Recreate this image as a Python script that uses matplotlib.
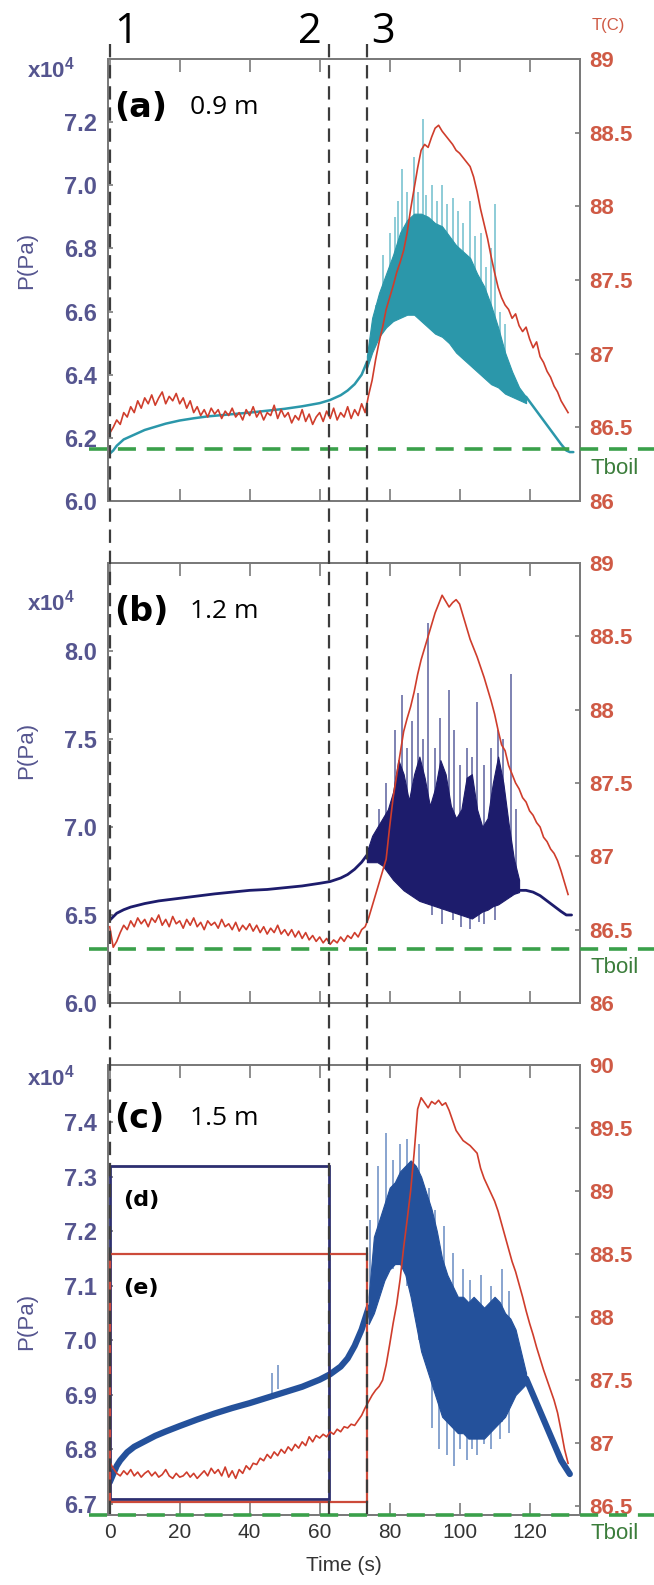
import matplotlib.pyplot as plt
from matplotlib.lines import Line2D
from matplotlib.patches import Rectangle
from matplotlib.transforms import blended_transform_factory as blend

plt.rcParams['font.family'] = ['Liberation Sans', 'DejaVu Sans']
plt.rcParams['mathtext.default'] = 'regular'

# event times (s) marked by the dashed verticals
event_t = [0, 62.6, 73.4]
event_names = ['1', '2', '3']

# temperature, one sample per second
t_sec = list(range(132))
temp_a = [86.46, 86.50, 86.55, 86.52, 86.60, 86.57, 86.64, 86.60, 86.68, 86.63, 86.70,
          86.66, 86.72, 86.65, 86.70, 86.74, 86.66, 86.71, 86.68, 86.73, 86.66,
          86.70, 86.63, 86.68, 86.60, 86.64, 86.58, 86.62, 86.57, 86.63, 86.59,
          86.62, 86.56, 86.61, 86.58, 86.63, 86.57, 86.60, 86.55, 86.62, 86.58,
          86.64, 86.57, 86.61, 86.55, 86.60, 86.58, 86.65, 86.56, 86.62, 86.57,
          86.60, 86.53, 86.58, 86.55, 86.62, 86.54, 86.59, 86.52, 86.57, 86.60,
          86.54, 86.61, 86.56, 86.63, 86.55, 86.60, 86.57, 86.64, 86.56, 86.62,
          86.58, 86.66, 86.60, 86.72,
          86.82, 86.96, 87.08, 87.18, 87.30, 87.38, 87.46, 87.55, 87.62, 87.70, 87.82, 87.98, 88.12,
          88.26, 88.38, 88.42, 88.40, 88.47, 88.53, 88.55, 88.51, 88.48, 88.45, 88.42, 88.38, 88.36,
          88.33, 88.30, 88.27, 88.20, 88.10, 87.98, 87.88, 87.78, 87.66, 87.55, 87.45, 87.38, 87.33,
          87.30, 87.24, 87.27, 87.19, 87.15, 87.18, 87.10, 87.04, 87.08, 86.98, 86.94, 86.88, 86.84,
          86.78, 86.74, 86.68, 86.64, 86.60]
temp_b = [86.52, 86.38, 86.42, 86.48, 86.53, 86.50, 86.56, 86.52, 86.58, 86.54, 86.57,
          86.52, 86.58, 86.55, 86.60, 86.53, 86.57, 86.52, 86.59, 86.54, 86.56,
          86.51, 86.57, 86.53, 86.58, 86.52, 86.55, 86.50, 86.56, 86.53, 86.55,
          86.51, 86.57, 86.52, 86.54, 86.50, 86.55, 86.49, 86.53, 86.50, 86.54,
          86.49, 86.53, 86.48, 86.52, 86.47, 86.51, 86.48, 86.53, 86.47, 86.50,
          86.46, 86.50, 86.45, 86.49, 86.44, 86.48, 86.43, 86.46, 86.42, 86.45,
          86.41, 86.44, 86.40, 86.43, 86.41, 86.45, 86.42, 86.46, 86.44, 86.48,
          86.45, 86.50, 86.52, 86.58, 86.66, 86.74, 86.82, 86.90,
          86.98, 87.20, 87.40, 87.55, 87.70, 87.85, 87.94, 88.02, 88.12, 88.24, 88.34,
          88.42, 88.50, 88.58, 88.66, 88.72, 88.78, 88.74, 88.70, 88.73, 88.75, 88.72,
          88.64, 88.56, 88.48, 88.42, 88.36, 88.29, 88.22, 88.14, 88.06, 87.97, 87.86,
          87.76, 87.72, 87.62, 87.56, 87.50, 87.46, 87.40, 87.37, 87.31, 87.28, 87.23,
          87.20, 87.13, 87.10, 87.05, 87.02, 86.97, 86.90, 86.82, 86.74]
temp_c = [86.85, 86.80, 86.76, 86.74, 86.78, 86.75, 86.79, 86.74, 86.77, 86.73, 86.76,
          86.78, 86.74, 86.77, 86.73, 86.75, 86.79, 86.74, 86.72, 86.76, 86.73,
          86.74, 86.77, 86.73, 86.76, 86.72, 86.75, 86.78, 86.74, 86.80, 86.76,
          86.79, 86.74, 86.81, 86.73, 86.78, 86.72, 86.79, 86.76, 86.82, 86.79,
          86.84, 86.83, 86.88, 86.86, 86.91, 86.88, 86.93, 86.90, 86.95, 86.92,
          86.97, 86.94, 86.99, 86.96, 87.01, 86.98, 87.05, 87.01, 87.06, 87.04,
          87.07, 87.05, 87.09, 87.07, 87.11, 87.09, 87.13, 87.12, 87.15, 87.14,
          87.18, 87.22, 87.28, 87.33, 87.38, 87.42, 87.45,
          87.50, 87.62, 87.78, 87.95, 88.10, 88.30, 88.55, 88.77, 89.00, 89.30, 89.65,
          89.74, 89.70, 89.66, 89.71, 89.69, 89.72, 89.68, 89.70, 89.64, 89.56, 89.48, 89.44,
          89.40, 89.38, 89.36, 89.33, 89.30, 89.18, 89.10, 89.04, 88.98, 88.92, 88.84,
          88.74, 88.64, 88.54, 88.44, 88.36, 88.26, 88.16, 88.05, 87.95, 87.86, 87.76,
          87.67, 87.58, 87.50, 87.42, 87.34, 87.24, 87.10, 86.95, 86.84]

# pressure (x10^4 Pa): quiet rise before boiling
p_a_t = [0, 1, 2, 4, 6, 8, 10, 13, 16, 20, 24, 28, 32, 36, 40, 45, 50, 55, 60, 63, 66, 68, 70, 72, 73.5]
p_a = [6.15, 6.16, 6.175, 6.195, 6.205, 6.215, 6.225, 6.235, 6.245, 6.255, 6.262, 6.268, 6.272,
       6.276, 6.280, 6.286, 6.292, 6.300, 6.310, 6.320, 6.335, 6.350, 6.370, 6.400, 6.440]
p_b_t = [0, 1, 2, 4, 6, 8, 10, 14, 18, 22, 26, 30, 35, 40, 45, 50, 55, 60, 63, 66, 68, 70, 72, 73.5]
p_b = [6.47, 6.49, 6.51, 6.53, 6.545, 6.555, 6.565, 6.58, 6.59, 6.60, 6.61, 6.62, 6.63, 6.64,
       6.645, 6.655, 6.665, 6.68, 6.69, 6.71, 6.73, 6.76, 6.80, 6.84]
p_c_t = [0, 1, 2, 3, 5, 7, 10, 13, 16, 20, 25, 30, 35, 40, 45, 50, 55, 60, 63, 66, 68, 70, 72, 74]
p_c = [6.74, 6.755, 6.77, 6.78, 6.795, 6.805, 6.815, 6.825, 6.833, 6.843, 6.855, 6.866, 6.876,
       6.885, 6.895, 6.905, 6.915, 6.928, 6.938, 6.952, 6.967, 6.99, 7.02, 7.06]

# oscillating (geysering) band: lower / upper envelope
band_a_t = [73.5, 75, 77, 79, 81, 83, 85, 87, 89, 91, 93, 95, 97, 99, 101, 103, 105, 107, 109, 111, 113, 115, 117, 119]
band_a_lo = [6.42, 6.47, 6.52, 6.55, 6.57, 6.58, 6.59, 6.59, 6.57, 6.55, 6.53, 6.52, 6.50, 6.47,
             6.45, 6.43, 6.41, 6.39, 6.37, 6.36, 6.34, 6.33, 6.32, 6.31]
band_a_hi = [6.46, 6.58, 6.66, 6.72, 6.78, 6.85, 6.89, 6.91, 6.91, 6.90, 6.88, 6.87, 6.84, 6.81,
             6.79, 6.77, 6.72, 6.68, 6.62, 6.55, 6.47, 6.41, 6.36, 6.33]
band_b_t = [73.5, 75, 76.5, 78, 79.5, 81, 82.5, 84, 85.5, 87, 88.5, 90, 91.5, 93, 94.5, 96, 97.5,
            99, 100.5, 102, 103.5, 105, 106.5, 108, 109.5, 111, 112.5, 114, 115.5, 117]
band_b_lo = [6.80, 6.80, 6.80, 6.78, 6.74, 6.70, 6.67, 6.64, 6.62, 6.60, 6.58, 6.57, 6.56, 6.55,
             6.54, 6.53, 6.52, 6.51, 6.50, 6.49, 6.48, 6.50, 6.52, 6.53, 6.55, 6.56, 6.58, 6.60, 6.62, 6.63]
band_b_hi = [6.86, 6.95, 7.00, 7.05, 7.10, 7.20, 7.38, 7.30, 7.15, 7.30, 7.40, 7.28, 7.12, 7.22,
             7.38, 7.30, 7.12, 7.05, 7.10, 7.28, 7.30, 7.10, 7.00, 7.05, 7.25, 7.40, 7.25, 7.02, 6.82, 6.70]
band_c_t = [74, 75.5, 77, 78.5, 80, 81.5, 83, 84.5, 86, 87.5, 89, 90.5, 92, 93.5, 95, 96.5, 98,
            99.5, 101, 102.5, 104, 105.5, 107, 108.5, 110, 111.5, 113, 114.5, 116, 117.5, 119]
band_c_lo = [7.03, 7.05, 7.08, 7.11, 7.13, 7.14, 7.14, 7.12, 7.08, 7.03, 6.98, 6.95, 6.92, 6.89,
             6.86, 6.85, 6.84, 6.83, 6.83, 6.82, 6.82, 6.82, 6.82, 6.83, 6.84, 6.85, 6.86, 6.88, 6.90, 6.91, 6.92]
band_c_hi = [7.08, 7.19, 7.22, 7.25, 7.28, 7.29, 7.31, 7.32, 7.33, 7.32, 7.30, 7.27, 7.24, 7.20,
             7.15, 7.12, 7.10, 7.08, 7.08, 7.07, 7.08, 7.07, 7.06, 7.07, 7.08, 7.07, 7.05, 7.04, 7.02, 6.98, 6.94]

# relaxation after the oscillations stop
tail_a_t = [119, 121, 123, 125, 127, 129, 130.5, 131.5, 132.5]
tail_a = [6.33, 6.30, 6.27, 6.24, 6.21, 6.18, 6.16, 6.155, 6.155]
tail_b_t = [117, 119, 121, 123, 125, 127, 129, 130.5, 132]
tail_b = [6.64, 6.64, 6.63, 6.61, 6.58, 6.55, 6.52, 6.50, 6.50]
tail_c_t = [119, 121, 123, 125, 127, 129, 130.5, 131.5]
tail_c = [6.93, 6.90, 6.87, 6.84, 6.81, 6.78, 6.765, 6.755]

# single pressure spikes: time, lower end, upper end
spk_a_t = [76, 78, 80, 81.5, 82.5, 83.5, 85, 86.9, 88, 89.5, 90.5, 92, 93.5, 95, 96.5, 98, 99.5,
           101, 103, 104.5, 106, 107.5, 109, 110, 111.5, 113]
spk_a_lo = [6.50, 6.56, 6.58, 6.60, 6.60, 6.62, 6.62, 6.63, 6.62, 6.62, 6.60, 6.58, 6.57, 6.56,
            6.55, 6.52, 6.50, 6.48, 6.46, 6.44, 6.43, 6.41, 6.40, 6.38, 6.37, 6.36]
spk_a_hi = [6.62, 6.78, 6.85, 6.90, 6.95, 7.05, 6.98, 7.09, 6.98, 7.21, 6.97, 7.00, 6.95, 7.00,
            6.94, 6.96, 6.92, 6.88, 6.95, 6.84, 6.85, 6.74, 6.80, 6.94, 6.60, 6.56]
spk_b_t = [77, 79, 81.5, 83.4, 85, 86.5, 88.2, 89.5, 91.1, 92, 93, 94.5, 95, 96.9, 98, 98.5, 100,
           100.5, 102, 103, 103.5, 105, 105.5, 107, 109, 110, 111, 112.5, 114.6, 116]
spk_b_lo = [6.80, 6.78, 6.72, 6.68, 6.65, 6.63, 6.62, 6.60, 6.59, 6.50, 6.57, 6.56, 6.45, 6.55,
            6.47, 6.54, 6.53, 6.43, 6.52, 6.42, 6.52, 6.51, 6.46, 6.45, 6.54, 6.47, 6.56, 6.58, 6.60, 6.62]
spk_b_hi = [7.10, 7.25, 7.55, 7.75, 7.45, 7.60, 7.76, 7.50, 8.16, 6.90, 7.45, 7.62, 6.88, 7.78,
            6.86, 7.55, 7.35, 6.85, 7.45, 6.85, 7.40, 7.71, 6.86, 7.35, 7.45, 6.90, 7.55, 7.50, 7.87, 7.10]
spk_c_t = [46.5, 48, 74.5, 76.7, 79, 81, 83, 85, 88.4, 91.3, 92, 93, 94, 95.5, 96.5, 98, 98.5,
           100, 101, 102, 103, 103.5, 105, 106, 107, 109, 111.5, 112, 114]
spk_c_lo = [6.90, 6.91, 7.05, 7.08, 7.12, 7.13, 7.14, 7.10, 7.00, 6.95, 6.84, 6.92, 6.80, 6.86,
            6.79, 6.84, 6.77, 6.80, 6.83, 6.78, 6.82, 6.80, 6.79, 6.82, 6.81, 6.80, 6.82, 6.85, 6.83]
spk_c_hi = [6.94, 6.955, 7.22, 7.32, 7.38, 7.33, 7.36, 7.37, 7.36, 7.28, 7.00, 7.24, 6.98, 7.21,
            6.98, 7.16, 6.95, 6.96, 7.13, 6.95, 7.11, 6.96, 6.96, 7.12, 6.97, 7.10, 6.98, 7.13, 7.09]

# boiling temperature at each probe depth (C)
t_boil = [86.35, 86.37, 86.43]

# reference windows (d) and (e) in panel c
box_d_p = (6.71, 7.32)
box_e_T = (86.53, 88.5)

P_COL = '#55558f'
T_COL = '#cf5a45'
RED = '#cf3d2c'
GREEN = '#3aa04a'
SPINE = '#7a7a7a'

fig = plt.figure(figsize=(6.54, 15.85), dpi=100)

panels = [
    dict(pos=[0.1651, 0.6839, 0.7217, 0.2789], p=(p_a_t, p_a), band=(band_a_t, band_a_lo, band_a_hi),
         tail=(tail_a_t, tail_a), spk=(spk_a_t, spk_a_lo, spk_a_hi), temp=temp_a,
         col='#2b97aa', spk_col='#85c8d4', plim=(6.0, 7.4), pticks=[6.0, 6.2, 6.4, 6.6, 6.8, 7.0, 7.2],
         tlim=(86, 89), tticks=[86, 86.5, 87, 87.5, 88, 88.5, 89], name='(a)', depth='0.9 m',
         lbl_y=0.891, exp_y=0.977, plab_y=0.545, lw=1.8),
    dict(pos=[0.1651, 0.3672, 0.7217, 0.2776], p=(p_b_t, p_b), band=(band_b_t, band_b_lo, band_b_hi),
         tail=(tail_b_t, tail_b), spk=(spk_b_t, spk_b_lo, spk_b_hi), temp=temp_b,
         col='#1d1c6c', spk_col='#7478ad', plim=(6.0, 8.5), pticks=[6.0, 6.5, 7.0, 7.5, 8.0],
         tlim=(86, 89), tticks=[86, 86.5, 87, 87.5, 88, 88.5, 89], name='(b)', depth='1.2 m',
         lbl_y=0.889, exp_y=0.909, plab_y=0.575, lw=2.0),
    dict(pos=[0.1651, 0.0442, 0.7217, 0.2839], p=(p_c_t, p_c), band=(band_c_t, band_c_lo, band_c_hi),
         tail=(tail_c_t, tail_c), spk=(spk_c_t, spk_c_lo, spk_c_hi), temp=temp_c,
         col='#24519b', spk_col='#7f9dcc', plim=(6.68, 7.505),
         pticks=[6.7, 6.8, 6.9, 7.0, 7.1, 7.2, 7.3, 7.4],
         tlim=(86.43, 90), tticks=[86.5, 87, 87.5, 88, 88.5, 89, 89.5, 90], name='(c)', depth='1.5 m',
         lbl_y=0.882, exp_y=0.971, plab_y=0.43, lw=4.5),
]

axes = []
for i, pn in enumerate(panels):
    ax = fig.add_axes(pn['pos'])
    ax_t = ax.twinx()
    axes.append((ax, ax_t))
    col = pn['col']

    # pressure
    ax.plot(*pn['p'], color=col, lw=pn['lw'], solid_capstyle='round', zorder=3)
    bt, blo, bhi = pn['band']
    ax.fill_between(bt, blo, bhi, color=col, lw=0.8, edgecolor=col, zorder=3)
    st, slo, shi = pn['spk']
    ax.vlines(st, slo, shi, color=pn['spk_col'], lw=1.3, zorder=2.5)
    ax.plot(*pn['tail'], color=col, lw=pn['lw'], solid_capstyle='round', zorder=3)

    # temperature
    ax_t.plot(t_sec, pn['temp'], color=RED, lw=1.2, zorder=4)

    ax.set_xlim(-0.5, 134.4)
    ax.set_ylim(*pn['plim'])
    ax_t.set_ylim(*pn['tlim'])
    ax.set_xticks([0, 20, 40, 60, 80, 100, 120])
    ax.set_yticks(pn['pticks'])
    ax.set_yticklabels([f'{v:.1f}' for v in pn['pticks']])
    ax_t.set_yticks(pn['tticks'])
    ax_t.set_yticklabels([f'{v:g}' for v in pn['tticks']])

    last = i == len(panels) - 1
    ax.tick_params(axis='x', direction='in', length=9, width=1.2, color=SPINE,
                   top=True, bottom=True, labelbottom=last, labelsize=15, labelcolor='#333333', pad=6)
    ax.tick_params(axis='y', direction='in', length=3.5, width=1.2, color=SPINE,
                   labelsize=17, labelcolor=P_COL, pad=8)
    ax_t.tick_params(axis='y', direction='in', length=3.5, width=1.2, color=SPINE,
                     labelsize=16, labelcolor=T_COL, pad=7)
    plt.setp(ax.get_yticklabels(), fontweight='bold')
    plt.setp(ax_t.get_yticklabels(), fontweight='bold')
    for a in (ax, ax_t):
        for sp in a.spines.values():
            sp.set_color(SPINE)
            sp.set_linewidth(1.4)

    # boiling line, running out past the right axis
    tr = blend(ax_t.transAxes, ax_t.transData)
    tb = t_boil[i]
    ax_t.add_line(Line2D([-0.04, 1.16], [tb, tb], transform=tr, color=GREEN, lw=2.6,
                         ls=(0, (5, 3)), clip_on=False, zorder=6))
    ax_t.annotate('Tboil', xy=(1.022, tb), xycoords=tr, xytext=(0, -19), textcoords='offset pixels',
                  ha='left', va='center', color='#3b7d3b', fontsize=16, annotation_clip=False)

    ax.text(0.014, pn['lbl_y'], pn['name'], transform=ax.transAxes, fontsize=24, fontweight='bold',
            family=['DejaVu Sans'], ha='left', va='center', zorder=7)
    ax.text(0.174, pn['lbl_y'], pn['depth'], transform=ax.transAxes, fontsize=19,
            family=['Open Sans', 'DejaVu Sans'], ha='left', va='center', zorder=7)
    ax.text(-0.12, pn['exp_y'], r'x10$^4$', transform=ax.transAxes, fontsize=16, fontweight='bold',
            color=P_COL, ha='center', va='center')
    ax.text(-0.172, pn['plab_y'], 'P(Pa)', transform=ax.transAxes, rotation=90, fontsize=16,
            color=P_COL, ha='center', va='center')

ax_a, ax_a_t = axes[0]
ax_c, ax_c_t = axes[2]

ax_c.set_xlabel('Time (s)', fontsize=15, color='#333333', labelpad=10)

# reference windows in panel c
ax_c.add_patch(Rectangle((event_t[0], box_d_p[0]), event_t[1] - event_t[0], box_d_p[1] - box_d_p[0],
                         fill=False, edgecolor='#2d2f70', lw=2.0, zorder=5, clip_on=False))
ax_c_t.add_patch(Rectangle((event_t[0], box_e_T[0]), event_t[2] - event_t[0], box_e_T[1] - box_e_T[0],
                           fill=False, edgecolor='#cc4a3a', lw=1.6, zorder=5, clip_on=False))
ax_c.text(0.032, 0.70, '(d)', transform=ax_c.transAxes, fontsize=16, fontweight='bold',
          family=['DejaVu Sans'], ha='left', va='center')
ax_c.text(0.032, 0.505, '(e)', transform=ax_c.transAxes, fontsize=16, fontweight='bold',
          family=['DejaVu Sans'], ha='left', va='center')

# dashed event markers through all three panels
tr_ev = blend(ax_c.transData, fig.transFigure)
for t in event_t:
    fig.add_artist(Line2D([t, t], [0.972, 0.041], transform=tr_ev, color='#3c3c3c', lw=1.6,
                          ls=(0, (6, 3.5)), zorder=8))
offsets = [(4, 'left'), (-7, 'right'), (5, 'left')]
for t, name, (dx, ha) in zip(event_t, event_names, offsets):
    ax_a.annotate(name, xy=(t, 0.980), xycoords=tr_ev, xytext=(dx, 0), textcoords='offset pixels',
                  ha=ha, va='center', fontsize=30, family=['Open Sans', 'DejaVu Sans'],
                  annotation_clip=False)

fig.text(0.930, 0.984, 'T(C)', color=T_COL, fontsize=12, ha='center', va='center')

fig.savefig('out.png', dpi=100, facecolor='white')
